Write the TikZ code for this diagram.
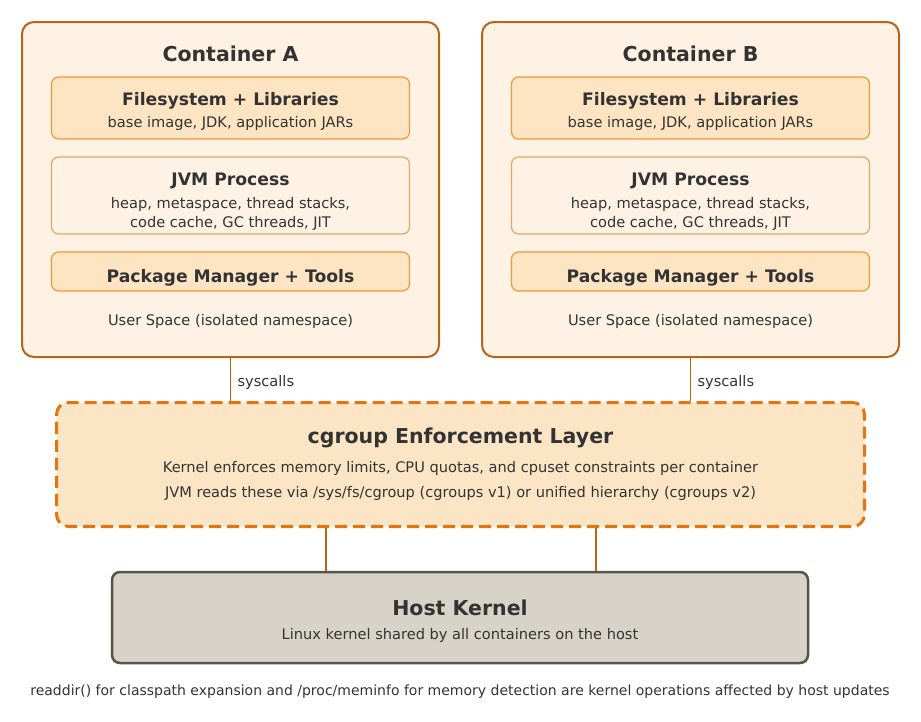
\documentclass[tikz,border=0pt]{standalone}
\usepackage{fontspec}
\setmainfont{DejaVu Sans}
\usetikzlibrary{positioning}

\definecolor{ctrline}{HTML}{B8651B}
\definecolor{ctrfill}{HTML}{FDF2E3}
\definecolor{layfill}{HTML}{FDE5C3}
\definecolor{layline}{HTML}{EE9A3A}
\definecolor{jvmline}{HTML}{E2A868}
\definecolor{cgline}{HTML}{E8720C}
\definecolor{cgfill}{HTML}{FCE5C5}
\definecolor{hostfill}{HTML}{D8D3C8}
\definecolor{hostline}{HTML}{58544A}
\definecolor{txt}{HTML}{333333}

\begin{document}
\begin{tikzpicture}[x=1pt,y=-1pt]
\tikzstyle{container}=[draw=ctrline,fill=ctrfill,line width=2pt,rounded corners=12pt,
  minimum width=417pt,minimum height=335pt]
\tikzstyle{layer}=[draw=layline,fill=layfill,line width=1.2pt,rounded corners=7pt,
  minimum width=358pt]
\tikzstyle{title}=[text=txt,font=\bfseries\fontsize{20.5}{24}\selectfont]
\tikzstyle{head}=[text=txt,font=\bfseries\fontsize{17.2}{20}\selectfont]
\tikzstyle{body}=[text=txt,font=\fontsize{14.6}{19.5}\selectfont,align=center]
\tikzstyle{link}=[draw=ctrline,line width=1.5pt]

\useasboundingbox (0,0) rectangle (921,721);

%% Two containers
\foreach \c/\x in {A/230.5,B/690.5}{
    \node [container] (ctr\c) at (\x,189.5) {};
    \node [title] (ctr\c title) at (\x,54) {Container \c};
    % filesystem layer
    \node [layer,minimum height=62pt] (fs\c) at (\x,108) {};
    \node [head] (fs\c head) at (\x,100.5) {Filesystem + Libraries};
    \node [body] (fs\c body) at (\x,123.5) {base image, JDK, application JARs};
    % JVM process
    \node [layer,draw=jvmline,fill=ctrfill,minimum height=77pt] (jvm\c) at (\x,195.5) {};
    \node [head] (jvm\c head) at (\x,180.5) {JVM Process};
    \node [body] (jvm\c body) at (\x,214) {heap, metaspace, thread stacks,\\code cache, GC threads, JIT};
    % tools
    \node [layer,minimum height=39pt] (pkg\c) at (\x,271.5) {};
    \node [head] (pkg\c head) at (\x,277.5) {Package Manager + Tools};
    \node [body] (user\c) at (\x,321) {User Space (isolated namespace)};
}

%% cgroup layer
\node [draw=cgline,fill=cgfill,dash pattern=on 12pt off 6pt,line width=3pt,
       rounded corners=12pt,minimum width=808pt,minimum height=124pt] (cgroup) at (460.5,464.5) {};
\node [title] (cgtitle) at (460.5,438) {cgroup Enforcement Layer};
\node [body] (cgline1) at (460.5,468) {Kernel enforces memory limits, CPU quotas, and cpuset constraints per container};
\node [body] (cgline2) at (460.5,493) {JVM reads these via /sys/fs/cgroup (cgroups v1) or unified hierarchy (cgroups v2)};

%% Host kernel
\node [draw=hostline,fill=hostfill,line width=2.5pt,rounded corners=8pt,
       minimum width=696pt,minimum height=91pt] (host) at (460,617.5) {};
\node [title] (hosttitle) at (460,608) {Host Kernel};
\node [body] (hostbody) at (460,635) {Linux kernel shared by all containers on the host};

%% Links
\foreach \c in {A,B}
    \draw [link] (ctr\c.south) -- node [body,anchor=west,xshift=3pt,yshift=-3pt] (sys\c) {syscalls}
        (ctr\c.south |- cgroup.north);
\coordinate (downL) at ([xshift=-134.5pt]cgroup.south);
\coordinate (downR) at ([xshift=135.5pt]cgroup.south);
\draw [link] (downL) -- (downL |- host.north);
\draw [link] (downR) -- (downR |- host.north);

\node [body,font=\fontsize{14}{16}\selectfont] (note) at (460,692)
    {readdir() for classpath expansion and /proc/meminfo for memory detection are kernel operations affected by host updates};
\end{tikzpicture}
\end{document}
